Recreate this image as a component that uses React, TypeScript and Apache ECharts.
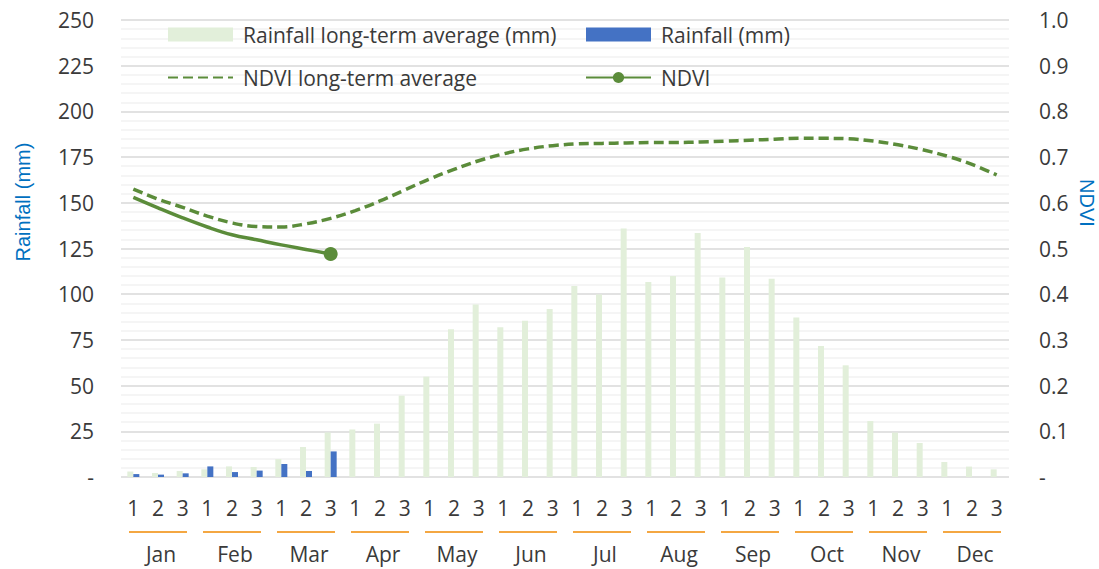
import React, { useEffect, useRef } from "react";
import * as echarts from "echarts";

const months = ["Jan", "Feb", "Mar", "Apr", "May", "Jun", "Jul", "Aug", "Sep", "Oct", "Nov", "Dec"];
const dekads = ["1", "2", "3"];
const categories = months.flatMap((m) => dekads.map((d) => `${m}-${d}`));

const rainfallLTA = [
  3, 2.2, 3.3, 4.2, 5.8, 5.5, 9.8, 16.4, 24.4,
  26, 29.2, 44.5, 54.9, 80.8, 94.3, 81.9, 85.5, 91.9,
  104.5, 99.9, 136, 106.7, 110, 133.5, 109.2, 125.8, 108.5,
  87.2, 71.7, 61.1, 30.6, 24.3, 18.6, 8.2, 5.7, 4.2,
];
const rainfall = [1.6, 1.3, 2, 5.8, 2.7, 3.5, 7.1, 3.3, 14];
const ndviLTA = [
  0.63, 0.608, 0.59, 0.571, 0.556, 0.548, 0.547, 0.554, 0.566,
  0.583, 0.604, 0.628, 0.652, 0.673, 0.692, 0.707, 0.718, 0.725,
  0.729, 0.73, 0.731, 0.732, 0.732, 0.733, 0.735, 0.737, 0.739,
  0.741, 0.741, 0.74, 0.735, 0.727, 0.716, 0.702, 0.684, 0.661,
];
const ndvi = [0.612, 0.589, 0.567, 0.547, 0.53, 0.519, 0.508, 0.498, 0.488];

const FONT = "Open Sans";
const FS = 21;
const TXT = "#3a3a3a";
const GREEN = "#5B8C3A";
const LTA_BAR = "#E2EFDA";
const BLUE_BAR = "#4472C4";
const ORANGE = "#F4A742";
const TITLE_BLUE = "#0070C0";

export default function App() {
  const ref = useRef<HTMLDivElement>(null);
  useEffect(() => {
    if (!ref.current) return;
    const chart = echarts.init(ref.current, undefined, { renderer: "svg" });
    const lastIdx = ndvi.length - 1;
    const legendText = { fontSize: FS, color: TXT, fontFamily: FONT, padding: [0, 0, 0, 5] };
    chart.setOption({
      animation: false,
      textStyle: { fontFamily: FONT },
      grid: { left: 121, right: 90, top: 20, bottom: 92 },
      legend: [
        {
          left: 162,
          top: 19,
          orient: "vertical",
          itemWidth: 65,
          itemHeight: 14,
          itemGap: 22,
          textStyle: legendText,
          data: [
            { name: "Rainfall long-term average (mm)", icon: "rect" },
            {
              name: "NDVI long-term average",
              itemStyle: { color: "rgba(0,0,0,0)", borderColor: "rgba(0,0,0,0)", borderWidth: 0 },
            },
          ],
        },
        {
          left: 580,
          top: 19,
          orient: "vertical",
          itemWidth: 65,
          itemHeight: 14,
          itemGap: 22,
          textStyle: legendText,
          data: [{ name: "Rainfall (mm)", icon: "rect" }, { name: "NDVI" }],
        },
      ],
      xAxis: [
        {
          type: "category",
          data: categories,
          axisLine: { show: false },
          axisTick: { show: false },
          axisLabel: {
            interval: 0,
            margin: 20,
            fontSize: FS,
            color: TXT,
            fontFamily: FONT,
            formatter: (v: string) => v.split("-")[1],
          },
        },
        {
          type: "category",
          data: months,
          position: "bottom",
          axisLine: { show: false },
          axisTick: { show: false },
          axisLabel: {
            interval: 0,
            margin: 54,
            formatter: (v: string) => `{l|}\n{m|${v}}`,
            rich: {
              l: { width: 58, height: 2, lineHeight: 2, backgroundColor: ORANGE },
              m: { fontSize: FS, lineHeight: 42, color: TXT, fontFamily: FONT, padding: [0, 0, 0, 6] },
            },
          },
        },
      ],
      yAxis: [
        {
          type: "value",
          min: 0,
          max: 250,
          interval: 25,
          axisLine: { show: false },
          axisTick: { show: false },
          axisLabel: {
            margin: 27,
            fontSize: FS,
            color: TXT,
            fontFamily: FONT,
            formatter: (v: number) => (v === 0 ? "-" : String(v)),
          },
          splitLine: { lineStyle: { color: "#D9D9D9", width: 1.5 } },
          minorTick: { show: false, splitNumber: 5 },
          minorSplitLine: { show: true, lineStyle: { color: "#F2F2F2", width: 1.5 } },
        },
        {
          type: "value",
          min: 0,
          max: 1,
          interval: 0.1,
          axisLine: { show: false },
          axisTick: { show: false },
          splitLine: { show: false },
          axisLabel: {
            margin: 30,
            fontSize: FS,
            color: TXT,
            fontFamily: FONT,
            formatter: (v: number) => (v === 0 ? "-" : v.toFixed(1)),
          },
        },
      ],
      series: [
        {
          name: "Rainfall long-term average (mm)",
          type: "bar",
          data: rainfallLTA,
          barWidth: 6,
          barGap: "0%",
          itemStyle: { color: LTA_BAR },
          z: 1,
        },
        {
          name: "Rainfall (mm)",
          type: "bar",
          data: rainfall,
          barWidth: 6,
          barGap: "0%",
          itemStyle: { color: BLUE_BAR },
          z: 1,
        },
        {
          name: "NDVI long-term average",
          type: "line",
          yAxisIndex: 1,
          data: ndviLTA,
          smooth: 0.4,
          symbol: "none",
          lineStyle: { color: GREEN, width: 3.5, type: [10, 5] },
          itemStyle: { color: GREEN },
          z: 3,
        },
        {
          name: "NDVI",
          type: "line",
          yAxisIndex: 1,
          data: ndvi.map((v, i) =>
            i === lastIdx ? { value: v } : { value: v, symbol: "none" }
          ),
          smooth: 0.4,
          symbol: "circle",
          symbolSize: 14,
          showSymbol: true,
          lineStyle: { color: GREEN, width: 3.5 },
          itemStyle: { color: GREEN },
          z: 4,
        },
      ],
      graphic: [
        {
          type: "text",
          x: 23,
          y: 202,
          rotation: Math.PI / 2,
          style: {
            text: "Rainfall (mm)",
            fill: TITLE_BLUE,
            font: '20px "Liberation Sans", Arial, sans-serif',
            align: "center",
            verticalAlign: "middle",
          },
        },
        {
          type: "text",
          x: 1087,
          y: 203,
          rotation: -Math.PI / 2,
          style: {
            text: "NDVI",
            fill: TITLE_BLUE,
            font: '20px "Liberation Sans", Arial, sans-serif',
            align: "center",
            verticalAlign: "middle",
          },
        },
      ],
    });
    return () => chart.dispose();
  }, []);
  return (
    <div
      ref={ref}
      style={{ position: "fixed", left: 0, top: 0, width: 1099, height: 569, background: "#fff" }}
    />
  );
}
